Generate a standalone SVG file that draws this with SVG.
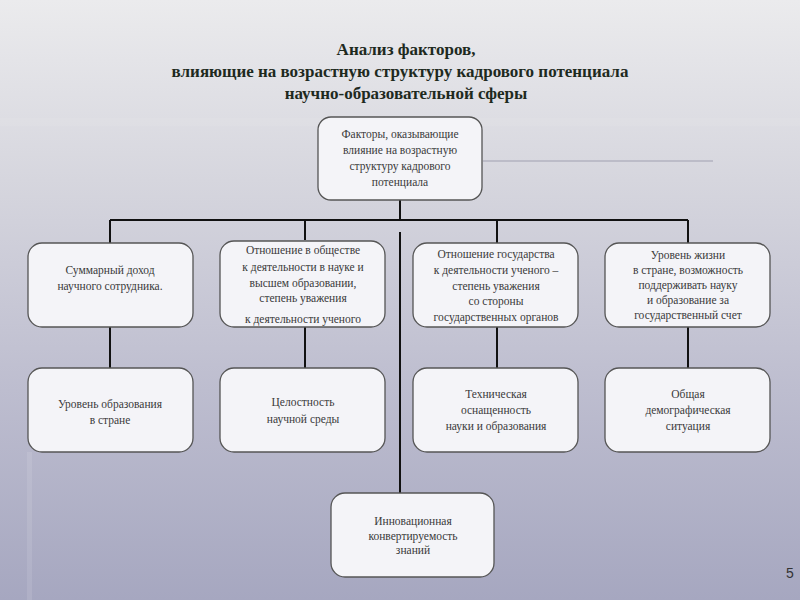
<svg xmlns="http://www.w3.org/2000/svg" width="800" height="600" viewBox="0 0 800 600">
  <defs>
    <linearGradient id="bg" x1="0" y1="0" x2="0" y2="1">
      <stop offset="0" stop-color="#ebebed"/>
      <stop offset="0.3" stop-color="#d6d6de"/>
      <stop offset="0.65" stop-color="#bdbdcf"/>
      <stop offset="1" stop-color="#a6a7c0"/>
    </linearGradient>
    <style>
      .box { fill: #f4f4f8; stroke: #555; stroke-width: 1.3; }
      .t { font-family: "Liberation Serif", "DejaVu Serif", serif; font-size: 11.5px; fill: #3a3a3a; text-anchor: middle; }
      .title { font-family: "Liberation Serif", "DejaVu Serif", serif; font-size: 17px; font-weight: bold; fill: #1e2a1e; text-anchor: middle; }
      .ln { stroke: #111; stroke-width: 2; fill: none; }
    </style>
  </defs>
  <rect x="0" y="0" width="800" height="600" fill="url(#bg)"/>
  <rect x="0" y="118" width="800" height="8" fill="#ffffff" opacity="0.06"/>
  <line x1="483" y1="161" x2="713" y2="161" stroke="#bcbcc8" stroke-width="2"/>
  <rect x="27" y="452" width="5" height="148" fill="#ffffff" opacity="0.1"/>

  <g id="title">
    <text class="title" x="406" y="55">Анализ факторов,</text>
    <text class="title" x="400" y="77">влияющие на возрастную структуру кадрового потенциала</text>
    <text class="title" x="406" y="99">научно-образовательной сферы</text>
  </g>

  <g id="connectors">
    <path class="ln" d="M400 200 V220 M110 220 H688 M110 220 V243 M305 220 V240 M497 220 V243 M688 220 V243"/>
    <path class="ln" d="M400 232 V493"/>
    <path class="ln" d="M110 327 V368 M305 327 V368 M497 327 V368 M688 327 V368"/>
  </g>

  <g id="root">
    <rect class="box" x="318" y="117" width="164" height="83" rx="13"/>
    <text class="t" x="400" y="138" font-size="12">Факторы, оказывающие</text>
    <text class="t" x="400" y="154" font-size="12">влияние на возрастную</text>
    <text class="t" x="400" y="170" font-size="12">структуру кадрового</text>
    <text class="t" x="400" y="186" font-size="12">потенциала</text>
  </g>

  <g id="n1">
    <rect class="box" x="28" y="243" width="165" height="84" rx="14"/>
    <text class="t" x="110" y="274" font-size="12">Суммарный доход</text>
    <text class="t" x="110" y="290" font-size="12">научного сотрудника.</text>
  </g>
  <g id="n2">
    <rect class="box" x="220" y="241" width="165" height="86" rx="14"/>
    <text class="t" x="303" y="254">Отношение в обществе</text>
    <text class="t" x="303" y="271">к деятельности в науке и</text>
    <text class="t" x="303" y="287">высшем образовании,</text>
    <text class="t" x="303" y="302">степень уважения</text>
    <text class="t" x="303" y="323">к деятельности ученого</text>
  </g>
  <g id="n3">
    <rect class="box" x="413" y="243" width="165" height="84" rx="14"/>
    <text class="t" x="496" y="258">Отношение государства</text>
    <text class="t" x="496" y="274">к деятельности ученого –</text>
    <text class="t" x="496" y="290">степень уважения</text>
    <text class="t" x="496" y="305">со стороны</text>
    <text class="t" x="496" y="321">государственных органов</text>
  </g>
  <g id="n4">
    <rect class="box" x="605" y="243" width="165" height="84" rx="14"/>
    <text class="t" x="688" y="259" font-size="11">Уровень жизни</text>
    <text class="t" x="688" y="274" font-size="11">в стране, возможность</text>
    <text class="t" x="688" y="289" font-size="11">поддерживать науку</text>
    <text class="t" x="688" y="304" font-size="11">и образование за</text>
    <text class="t" x="688" y="319" font-size="11">государственный счет</text>
  </g>

  <g id="n5">
    <rect class="box" x="28" y="368" width="165" height="84" rx="14"/>
    <text class="t" x="110" y="408" font-size="11">Уровень образования</text>
    <text class="t" x="110" y="424" font-size="11">в стране</text>
  </g>
  <g id="n6">
    <rect class="box" x="220" y="368" width="165" height="84" rx="14"/>
    <text class="t" x="303" y="406" font-size="11">Целостность</text>
    <text class="t" x="303" y="423" font-size="11">научной среды</text>
  </g>
  <g id="n7">
    <rect class="box" x="413" y="368" width="165" height="84" rx="14"/>
    <text class="t" x="496" y="398" font-size="11">Техническая</text>
    <text class="t" x="496" y="414" font-size="11">оснащенность</text>
    <text class="t" x="496" y="430" font-size="11">науки и образования</text>
  </g>
  <g id="n8">
    <rect class="box" x="605" y="368" width="165" height="84" rx="14"/>
    <text class="t" x="688" y="398" font-size="11">Общая</text>
    <text class="t" x="688" y="414" font-size="11">демографическая</text>
    <text class="t" x="688" y="430" font-size="11">ситуация</text>
  </g>

  <g id="n9">
    <rect class="box" x="331" y="493" width="163" height="84" rx="14"/>
    <text class="t" x="413" y="525" font-size="10.5">Инновационная</text>
    <text class="t" x="413" y="540" font-size="10.5">конвертируемость</text>
    <text class="t" x="413" y="554" font-size="9">знаний</text>
  </g>

  <text x="790" y="578" font-family="Liberation Sans, Arial, sans-serif" font-size="14" fill="#333" text-anchor="middle">5</text>
</svg>
